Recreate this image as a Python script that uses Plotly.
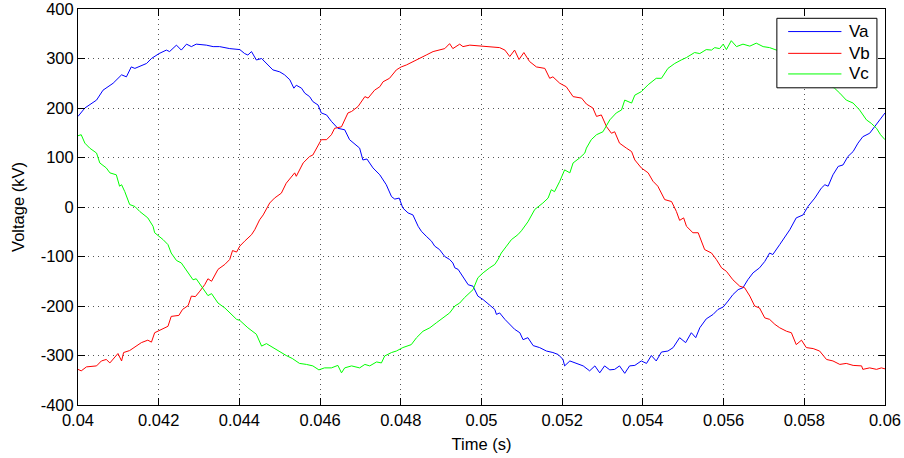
import plotly.graph_objects as go

# ---- data (time in s, voltage in kV) ----
t_a = [0.04000, 0.04017, 0.04046, 0.04062, 0.04087, 0.04108, 0.04120, 0.04132, 0.04141, 0.04170,
       0.04182, 0.04201, 0.04219, 0.04227, 0.04244, 0.04256, 0.04269, 0.04281, 0.04293, 0.04318,
       0.04335, 0.04351, 0.04376, 0.04393, 0.04401, 0.04413, 0.04421, 0.04430, 0.04442, 0.04455,
       0.04467, 0.04483, 0.04500, 0.04512, 0.04525, 0.04535, 0.04541, 0.04554, 0.04562, 0.04574,
       0.04582, 0.04595, 0.04603, 0.04616, 0.04628, 0.04644, 0.04661, 0.04673, 0.04698, 0.04706,
       0.04716, 0.04731, 0.04748, 0.04764, 0.04777, 0.04785, 0.04796, 0.04805, 0.04818, 0.04830,
       0.04843, 0.04851, 0.04863, 0.04876, 0.04884, 0.04896, 0.04909, 0.04921, 0.04929, 0.04934,
       0.04942, 0.04954, 0.04967, 0.04979, 0.04991, 0.05004, 0.05020, 0.05033, 0.05037, 0.05045,
       0.05058, 0.05070, 0.05082, 0.05095, 0.05103, 0.05115, 0.05128, 0.05144, 0.05161, 0.05177,
       0.05190, 0.05202, 0.05206, 0.05219, 0.05235, 0.05243, 0.05252, 0.05268, 0.05281, 0.05293,
       0.05305, 0.05318, 0.05330, 0.05342, 0.05355, 0.05367, 0.05380, 0.05396, 0.05409, 0.05421,
       0.05433, 0.05446, 0.05462, 0.05475, 0.05491, 0.05506, 0.05520, 0.05531, 0.05541, 0.05557,
       0.05574, 0.05586, 0.05599, 0.05611, 0.05623, 0.05636, 0.05648, 0.05660, 0.05673, 0.05689,
       0.05702, 0.05714, 0.05722, 0.05739, 0.05751, 0.05764, 0.05780, 0.05797, 0.05809, 0.05826,
       0.05842, 0.05851, 0.05859, 0.05871, 0.05884, 0.05896, 0.05908, 0.05921, 0.05933, 0.05945,
       0.05962, 0.05974, 0.05987, 0.06000]
v_a = [183, 200, 216, 236, 250, 267, 263, 283, 280, 290,
       300, 310, 317, 314, 327, 317, 329, 324, 329, 327,
       324, 324, 320, 318, 318, 310, 307, 314, 297, 300,
       290, 277, 273, 267, 257, 240, 246, 240, 230, 223,
       213, 206, 190, 186, 173, 159, 156, 136, 119, 95,
       97, 79, 65, 45, 21, 16, 18, -2, -12, -16,
       -39, -49, -59, -69, -79, -86, -100, -106, -113, -123,
       -126, -140, -157, -160, -180, -187, -197, -207, -217, -214,
       -227, -237, -247, -254, -268, -264, -280, -284, -291, -294,
       -298, -308, -321, -311, -316, -318, -321, -331, -321, -335,
       -321, -329, -328, -321, -336, -321, -320, -311, -316, -300,
       -311, -293, -291, -284, -264, -274, -254, -264, -244, -226,
       -217, -207, -202, -190, -177, -167, -163, -147, -133, -123,
       -110, -93, -96, -76, -62, -46, -22, -16, 1, 18,
       38, 45, 42, 65, 82, 85, 102, 112, 129, 142,
       149, 163, 176, 190]

t_b = [0.04000, 0.04008, 0.04021, 0.04046, 0.04058, 0.04070, 0.04079, 0.04087, 0.04099, 0.04108,
       0.04113, 0.04128, 0.04145, 0.04157, 0.04173, 0.04182, 0.04190, 0.04211, 0.04223, 0.04231,
       0.04250, 0.04259, 0.04273, 0.04281, 0.04291, 0.04302, 0.04314, 0.04322, 0.04331, 0.04347,
       0.04364, 0.04376, 0.04383, 0.04393, 0.04401, 0.04413, 0.04430, 0.04438, 0.04450, 0.04459,
       0.04475, 0.04487, 0.04504, 0.04516, 0.04537, 0.04541, 0.04558, 0.04574, 0.04582, 0.04603,
       0.04616, 0.04628, 0.04636, 0.04653, 0.04669, 0.04678, 0.04694, 0.04711, 0.04719, 0.04735,
       0.04748, 0.04756, 0.04772, 0.04789, 0.04801, 0.04814, 0.04830, 0.04847, 0.04863, 0.04880,
       0.04896, 0.04909, 0.04921, 0.04929, 0.04946, 0.04954, 0.04971, 0.04996, 0.05020, 0.05045,
       0.05058, 0.05070, 0.05082, 0.05093, 0.05105, 0.05119, 0.05136, 0.05157, 0.05169, 0.05177,
       0.05194, 0.05210, 0.05227, 0.05248, 0.05260, 0.05276, 0.05285, 0.05297, 0.05310, 0.05322,
       0.05330, 0.05342, 0.05359, 0.05372, 0.05380, 0.05396, 0.05413, 0.05425, 0.05437, 0.05454,
       0.05471, 0.05483, 0.05491, 0.05501, 0.05508, 0.05516, 0.05524, 0.05537, 0.05553, 0.05570,
       0.05582, 0.05595, 0.05607, 0.05623, 0.05640, 0.05652, 0.05665, 0.05677, 0.05689, 0.05702,
       0.05714, 0.05727, 0.05739, 0.05756, 0.05768, 0.05780, 0.05793, 0.05805, 0.05822, 0.05838,
       0.05855, 0.05871, 0.05888, 0.05904, 0.05921, 0.05942, 0.05945, 0.05962, 0.05979, 0.05991,
       0.06000]
v_b = [-328, -331, -323, -321, -311, -308, -315, -308, -296, -311,
       -294, -290, -281, -274, -269, -273, -254, -246, -241, -221,
       -219, -207, -199, -180, -181, -170, -157, -145, -150, -126,
       -116, -106, -88, -91, -79, -69, -56, -46, -26, -16,
       8, 18, 28, 48, 69, 62, 89, 102, 105, 136,
       136, 146, 159, 162, 190, 193, 203, 223, 220, 236,
       243, 253, 260, 277, 283, 287, 294, 300, 307, 314,
       317, 320, 330, 320, 329, 324, 327, 325, 324, 322,
       317, 304, 317, 298, 312, 294, 283, 280, 260, 263,
       250, 243, 223, 220, 208, 200, 183, 186, 162, 149,
       152, 129, 119, 112, 95, 79, 69, 52, 42, 15,
       11, -9, -27, -22, -39, -46, -52, -52, -86, -93,
       -106, -123, -130, -147, -160, -163, -180, -200, -204, -224,
       -227, -237, -244, -251, -254, -278, -269, -284, -286, -291,
       -308, -311, -318, -316, -320, -321, -328, -325, -328, -325,
       -327]

t_c = [0.04000, 0.04008, 0.04017, 0.04029, 0.04046, 0.04054, 0.04070, 0.04079, 0.04095, 0.04103,
       0.04108, 0.04116, 0.04128, 0.04141, 0.04153, 0.04173, 0.04186, 0.04190, 0.04211, 0.04223,
       0.04231, 0.04244, 0.04256, 0.04273, 0.04285, 0.04293, 0.04306, 0.04322, 0.04331, 0.04347,
       0.04364, 0.04380, 0.04393, 0.04401, 0.04421, 0.04442, 0.04455, 0.04467, 0.04483, 0.04504,
       0.04516, 0.04531, 0.04549, 0.04566, 0.04582, 0.04597, 0.04611, 0.04628, 0.04644, 0.04653,
       0.04661, 0.04678, 0.04698, 0.04711, 0.04723, 0.04740, 0.04752, 0.04760, 0.04777, 0.04789,
       0.04805, 0.04826, 0.04839, 0.04855, 0.04872, 0.04888, 0.04905, 0.04921, 0.04934, 0.04946,
       0.04958, 0.04971, 0.04979, 0.04991, 0.05004, 0.05020, 0.05033, 0.05041, 0.05049, 0.05062,
       0.05074, 0.05090, 0.05099, 0.05115, 0.05132, 0.05152, 0.05165, 0.05173, 0.05181, 0.05194,
       0.05206, 0.05219, 0.05227, 0.05243, 0.05256, 0.05260, 0.05272, 0.05285, 0.05301, 0.05318,
       0.05334, 0.05347, 0.05355, 0.05372, 0.05380, 0.05396, 0.05413, 0.05433, 0.05446, 0.05462,
       0.05479, 0.05495, 0.05508, 0.05528, 0.05541, 0.05557, 0.05570, 0.05578, 0.05590, 0.05599,
       0.05607, 0.05619, 0.05632, 0.05648, 0.05665, 0.05681, 0.05698, 0.05714, 0.05731, 0.05750,
       0.05800, 0.05840, 0.05875, 0.05888, 0.05904, 0.05921, 0.05937, 0.05954, 0.05966, 0.05979,
       0.05989, 0.06000]
v_c = [144, 146, 129, 119, 109, 89, 79, 69, 65, 42,
       45, 31, 5, 1, -9, -22, -39, -52, -66, -76,
       -93, -108, -113, -133, -147, -145, -160, -179, -175, -194,
       -204, -217, -227, -229, -244, -257, -281, -276, -284, -293,
       -300, -306, -316, -318, -321, -329, -325, -325, -320, -335,
       -325, -321, -325, -318, -321, -313, -315, -301, -294, -291,
       -284, -278, -264, -251, -244, -234, -224, -214, -200, -194,
       -183, -173, -167, -143, -133, -123, -116, -106, -93, -79,
       -66, -56, -48, -30, -5, 8, 18, 35, 31, 52,
       75, 69, 89, 99, 109, 119, 136, 146, 152, 176,
       190, 196, 216, 210, 226, 233, 247, 260, 260, 280,
       290, 297, 302, 312, 310, 318, 317, 322, 320, 329,
       318, 336, 324, 329, 325, 331, 324, 322, 317, 305,
       280, 255, 240, 230, 216, 210, 196, 176, 169, 159,
       146, 136]

x_ticks = [0.04, 0.042, 0.044, 0.046, 0.048, 0.05, 0.052, 0.054, 0.056, 0.058, 0.06]
x_tick_labels = ["0.04", "0.042", "0.044", "0.046", "0.048", "0.05", "0.052", "0.054", "0.056", "0.058", "0.06"]
y_ticks = [-400, -300, -200, -100, 0, 100, 200, 300, 400]
y_tick_labels = ["-400", "-300", "-200", "-100", "0", "100", "200", "300", "400"]

series = [("Va", t_a, v_a, "#0000ff"), ("Vb", t_b, v_b, "#ff0000"), ("Vc", t_c, v_c, "#00ff00")]

FONT = "Liberation Sans, Arial, Helvetica, sans-serif"

fig = go.Figure()
for name, t, v, col in series:
    fig.add_trace(go.Scatter(x=t, y=v, mode="lines", name=name, showlegend=False,
                             line=dict(color=col, width=1)))

axis_common = dict(
    showline=True, linecolor="black", linewidth=1, mirror="ticks",
    ticks="inside", ticklen=7, tickcolor="black", tickwidth=1,
    showgrid=True, gridcolor="#555555", gridwidth=1, griddash="1px,4px",
    zeroline=False, automargin=False, ticklabeloverflow="allow",
    tickfont=dict(family=FONT, size=16.5, color="black"),
)

fig.update_xaxes(range=[0.04, 0.06], tickvals=x_ticks, ticktext=x_tick_labels,
                 title=dict(text="Time (s)", font=dict(family=FONT, size=16.5, color="black"), standoff=10),
                 **axis_common)
fig.update_yaxes(range=[-400, 400], tickvals=y_ticks, ticktext=y_tick_labels,
                 title=dict(text="Voltage (kV)", font=dict(family=FONT, size=16.5, color="black"), standoff=11),
                 **axis_common)

# manual MATLAB-style legend box (paper coordinates)
lx0, lx1, ly0, ly1 = 0.866, 0.990, 0.801, 0.9765
fig.add_shape(type="rect", xref="paper", yref="paper", x0=lx0, x1=lx1, y0=ly0, y1=ly1,
              line=dict(color="black", width=1), fillcolor="white", layer="above")
row_y = [0.943, 0.888, 0.836]
for (name, _, _, col), yy in zip(series, row_y):
    fig.add_shape(type="line", xref="paper", yref="paper", x0=0.880, x1=0.946, y0=yy, y1=yy,
                  line=dict(color=col, width=1), layer="above")
    fig.add_annotation(xref="paper", yref="paper", x=0.953, y=yy, text=name, showarrow=False,
                       xanchor="left", yanchor="middle",
                       font=dict(family=FONT, size=17, color="black"))

fig.update_layout(
    width=904, height=458,
    margin=dict(l=78, r=19, t=9, b=53),
    paper_bgcolor="white", plot_bgcolor="white",
    font=dict(family=FONT, size=16.5, color="black"),
)

fig.write_html("out.html")
